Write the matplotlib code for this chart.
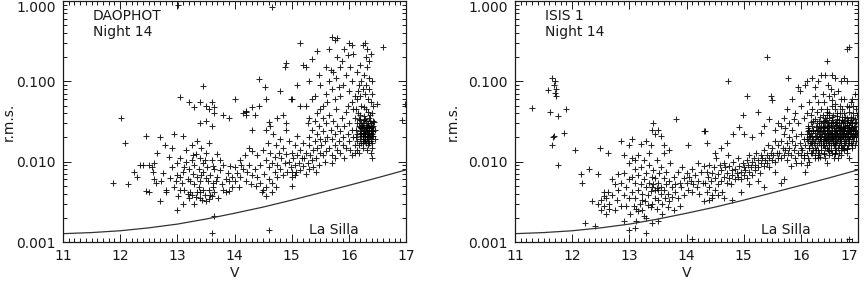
import numpy as np
import matplotlib
matplotlib.use("Agg")
import matplotlib.pyplot as plt
from matplotlib.ticker import FixedLocator, MultipleLocator, NullFormatter, LogLocator

# La Silla expected noise curve
silla_v = [11.0, 11.5, 12.0, 12.5, 13.0, 13.5, 14.0, 14.5, 15.0, 15.5, 16.0, 16.5, 17.0]
silla_rms = [0.00127, 0.00131, 0.00138, 0.00150, 0.00167, 0.00193, 0.00228,
             0.00272, 0.00332, 0.0041, 0.00507, 0.0063, 0.0079]

# DAOPHOT panel, (V, rms) pairs
dao_outliers = [(13.02, .90), (14.65, .85), (12.02, .035), (12.08, .017), (11.88, .0055),
                (13.6, .0013), (14.6, .0014), (16.93, .033), (16.98, .052), (16.6, .27),
                (13.05, .063), (15.0, .005), (12.14, .0052), (13.0, .0025), (13.65, .0021),
                (14.42, .108), (14.54, .085)]

dao_bright = [(12.25, .0075), (12.3, .0065), (12.4, .009), (12.45, .021), (12.45, .0043),
              (12.5, .0042), (12.5, .009), (12.55, .0085), (12.6, .0095), (12.6, .006),
              (12.62, .0055), (12.65, .013), (12.7, .02), (12.7, .0032), (12.75, .0073),
              (12.78, .016), (12.8, .0045), (12.8, .0042), (12.85, .0115), (12.9, .0085),
              (12.9, .015), (12.95, .022), (12.95, .0048), (13.0, .0068), (13.0, .0095),
              (13.02, .0037), (13.05, .0065), (13.05, .011), (13.08, .0055), (13.1, .0075),
              (13.1, .003), (13.1, .021), (13.12, .0045), (13.15, .0098), (13.15, .014),
              (13.18, .006), (13.2, .0035), (13.2, .0082), (13.22, .0042), (13.25, .0105),
              (13.25, .016), (13.25, .0038), (13.28, .007), (13.3, .0052), (13.3, .009),
              (13.3, .003), (13.32, .0125), (13.35, .0042), (13.35, .0065), (13.35, .018),
              (13.38, .008), (13.4, .0035), (13.4, .011), (13.4, .0058), (13.42, .015),
              (13.45, .0045), (13.45, .0075), (13.45, .0095), (13.48, .0038), (13.5, .0062),
              (13.5, .013), (13.5, .0032), (13.52, .0085), (13.55, .0045), (13.55, .017),
              (13.58, .0068), (13.6, .0037), (13.6, .0105), (13.62, .0055), (13.65, .008),
              (13.65, .0042), (13.7, .0065), (13.7, .0125), (13.72, .0035), (13.75, .0078),
              (13.78, .0052), (13.8, .0092), (13.8, .0045), (13.85, .006), (13.88, .0072),
              (13.9, .0043), (13.92, .0088), (13.95, .0048), (14.0, .0085), (14.0, .0058),
              (14.05, .0072), (14.1, .0105), (14.1, .0065), (14.15, .0082), (14.18, .012),
              (14.2, .0058), (14.22, .0075), (14.25, .0092), (14.3, .0068), (14.3, .0135),
              (13.22, .0058), (13.28, .012), (13.38, .0048), (13.42, .0068), (13.48, .0105),
              (13.53, .0058), (13.57, .0039), (13.33, .0036), (13.18, .004), (13.12, .0085),
              (13.05, .0045), (12.98, .0058), (12.88, .0062), (12.72, .0058), (12.58, .0075),
              (12.35, .0092), (13.62, .0088), (13.68, .0058), (13.75, .0105), (13.85, .0042),
              (13.95, .0065), (14.08, .0048), (14.12, .0092), (14.28, .0052), (13.9, .0058),
              (13.55, .0034), (13.4, .0042), (13.44, .0033), (13.62, .0048),
              (13.2, .055), (13.3, .048), (13.4, .055), (13.5, .05), (13.55, .045),
              (13.45, .088), (13.6, .055), (13.65, .04), (13.4, .03), (13.5, .032),
              (13.6, .028), (13.8, .038), (13.9, .035), (14.0, .06), (14.2, .042),
              (14.15, .04), (14.3, .048), (14.2, .038), (13.65, .048)]

dao_mid = [(14.35, .008), (14.4, .0065), (14.4, .012), (14.45, .0055), (14.45, .009),
           (14.5, .0045), (14.5, .014), (14.52, .007), (14.55, .0105), (14.55, .0048),
           (14.58, .017), (14.6, .0085), (14.6, .006), (14.62, .013), (14.65, .0095),
           (14.65, .0055), (14.68, .022), (14.7, .0075), (14.7, .0115), (14.72, .016),
           (14.75, .0065), (14.75, .009), (14.78, .013), (14.8, .019), (14.8, .008),
           (14.82, .011), (14.85, .0068), (14.85, .015), (14.88, .0095), (14.9, .025),
           (14.9, .0125), (14.92, .0075), (14.95, .01), (14.95, .018), (14.98, .0085),
           (15.0, .013), (15.0, .0065), (15.02, .011), (15.05, .016), (15.05, .009),
           (15.08, .0075), (15.1, .012), (15.1, .021), (15.12, .0095), (15.15, .014),
           (15.15, .0078), (15.18, .011), (15.2, .017), (15.2, .0088), (14.55, .025),
           (14.6, .031), (14.62, .028), (14.75, .035), (14.85, .038), (14.9, .03),
           (14.98, .06), (15.0, .06), (14.8, .075), (14.88, .15), (14.9, .17),
           (15.1, .09), (15.15, .05), (15.15, .3), (15.2, .16), (15.25, .15),
           (14.55, .06), (14.42, .05), (14.35, .038), (14.3, .025), (14.2, .043),
           (14.25, .015), (14.38, .005), (14.48, .0042), (14.55, .0037), (14.65, .0042),
           (14.72, .0048), (15.0, .0075), (15.05, .0068), (15.25, .007), (15.3, .008)]

dao_faint = [(15.22, .011), (15.25, .013), (15.28, .0095), (15.3, .016), (15.3, .02),
             (15.32, .012), (15.35, .0105), (15.35, .025), (15.38, .014), (15.4, .018),
             (15.4, .032), (15.42, .011), (15.45, .015), (15.45, .022), (15.48, .028),
             (15.5, .013), (15.5, .019), (15.5, .045), (15.3, .035), (15.35, .06),
             (15.4, .065), (15.45, .04), (15.25, .05), (15.28, .03), (15.48, .009),
             (15.42, .0075), (15.38, .0085), (15.45, .24), (15.35, .19), (15.3, .1),
             (15.5, .09), (15.48, .12),
             (15.52, .016), (15.55, .012), (15.55, .024), (15.58, .018), (15.6, .03),
             (15.6, .0135), (15.62, .02), (15.65, .015), (15.65, .038), (15.68, .025),
             (15.7, .012), (15.7, .019), (15.72, .032), (15.75, .016), (15.75, .022),
             (15.78, .045), (15.8, .014), (15.8, .028), (15.55, .05), (15.6, .07),
             (15.65, .1), (15.7, .08), (15.72, .13), (15.75, .06), (15.78, .11),
             (15.8, .2), (15.7, .36), (15.75, .33), (15.8, .35), (15.6, .15),
             (15.65, .25), (15.68, .14), (15.58, .01), (15.7, .0095), (15.75, .011),
             (15.62, .055), (15.55, .035),
             (15.82, .018), (15.85, .024), (15.85, .013), (15.88, .035), (15.9, .02),
             (15.9, .016), (15.92, .028), (15.95, .015), (15.95, .042), (15.98, .022),
             (16.0, .018), (16.0, .03), (16.02, .014), (16.05, .025), (16.05, .055),
             (16.08, .02), (16.1, .016), (16.1, .035), (15.85, .065), (15.9, .09),
             (15.95, .12), (16.0, .075), (16.02, .15), (16.05, .1), (16.08, .22),
             (16.1, .065), (15.88, .18), (15.92, .25), (16.0, .3), (16.05, .28),
             (15.98, .21), (15.85, .15), (15.82, .085), (16.1, .013), (15.92, .011),
             (16.05, .012), (15.98, .05), (16.08, .045),
             (16.12, .02), (16.12, .025), (16.14, .03), (16.15, .018), (16.15, .022),
             (16.16, .04), (16.18, .016), (16.18, .028), (16.2, .019), (16.2, .024),
             (16.2, .033), (16.22, .021), (16.22, .017), (16.22, .05), (16.24, .026),
             (16.24, .019), (16.25, .023), (16.25, .03), (16.26, .018), (16.26, .037),
             (16.28, .02), (16.28, .025), (16.28, .022), (16.3, .017), (16.3, .027),
             (16.3, .032), (16.3, .045), (16.32, .021), (16.32, .019), (16.32, .024),
             (16.34, .028), (16.34, .016), (16.35, .022), (16.35, .035), (16.36, .02),
             (16.36, .026), (16.38, .018), (16.38, .03), (16.38, .023), (16.4, .021),
             (16.4, .027), (16.4, .04), (16.4, .017), (16.42, .024), (16.42, .032),
             (16.14, .06), (16.16, .075), (16.18, .09), (16.2, .065), (16.22, .1),
             (16.24, .08), (16.26, .12), (16.28, .07), (16.3, .09), (16.32, .15),
             (16.34, .06), (16.35, .11), (16.36, .08), (16.38, .055), (16.4, .07),
             (16.4, .1), (16.3, .2), (16.32, .25), (16.35, .18), (16.38, .22),
             (16.25, .28), (16.28, .3), (16.2, .16), (16.15, .13), (16.12, .045),
             (16.14, .014), (16.18, .013), (16.25, .015), (16.32, .014), (16.38, .013),
             (16.4, .015), (16.45, .025), (16.45, .019), (16.44, .031), (16.4, .011),
             (16.2, .038), (16.26, .048), (16.34, .042), (16.42, .05), (16.17, .034),
             (16.23, .029), (16.29, .034), (16.33, .03), (16.37, .038), (16.43, .021),
             (16.21, .026), (16.27, .027), (16.31, .023), (16.39, .025), (16.19, .022),
             (16.24, .021), (16.36, .017), (16.5, .052)]

dao_core = [(16.21, .023), (16.23, .026), (16.25, .021), (16.27, .024), (16.29, .019),
            (16.31, .026), (16.33, .022), (16.35, .025), (16.37, .021), (16.39, .028),
            (16.41, .022), (16.22, .03), (16.26, .022), (16.3, .024), (16.34, .02),
            (16.38, .026), (16.42, .028), (16.19, .027), (16.27, .033), (16.31, .029),
            (16.35, .027), (16.39, .019), (16.24, .017), (16.28, .018), (16.32, .026),
            (16.36, .023), (16.4, .024), (16.29, .021), (16.33, .018), (16.37, .032)]

# ISIS panel, (V, rms) pairs
isis_outliers = [(11.3, .046), (11.58, .078), (11.62, .042), (11.65, .11), (11.7, .10),
                 (11.68, .09), (11.72, .08), (11.7, .072), (11.71, .065), (11.75, .037),
                 (11.68, .021), (11.66, .02), (11.65, .016), (11.75, .009), (11.85, .023),
                 (11.9, .045), (12.05, .014), (12.15, .007), (12.18, .0055), (12.3, .008),
                 (12.22, .0017), (12.4, .0016), (12.45, .007), (12.48, .015), (12.62, .013),
                 (14.1, .0011), (12.35, .0032), (14.32, .024)]

isis_bright = [(12.45, .003), (12.5, .0033), (12.5, .0025), (12.55, .0037), (12.55, .0028),
               (12.6, .0035), (12.6, .0022), (12.62, .0042), (12.65, .003), (12.7, .006),
               (12.7, .0038), (12.75, .0052), (12.78, .0033), (12.8, .0045), (12.8, .007),
               (12.85, .0028), (12.85, .0055), (12.9, .0072), (12.9, .0038), (12.95, .0048),
               (12.95, .0028), (13.0, .006), (13.0, .0035), (13.0, .0095), (13.02, .0022),
               (13.05, .0065), (13.05, .0042), (13.05, .011), (13.08, .0028), (13.1, .0055),
               (13.1, .008), (13.1, .0035), (13.12, .0018), (13.15, .0045), (13.15, .0068),
               (13.15, .012), (13.18, .003), (13.2, .0052), (13.2, .0085), (13.22, .0025),
               (13.22, .004), (13.25, .006), (13.25, .0105), (13.28, .0032), (13.3, .0048),
               (13.3, .0072), (13.3, .002), (13.32, .0038), (13.35, .0055), (13.35, .0092),
               (13.35, .013), (13.38, .0043), (13.4, .0065), (13.4, .003), (13.4, .0048),
               (13.42, .0078), (13.42, .0052), (13.45, .0035), (13.45, .0045), (13.45, .0062),
               (13.48, .0047), (13.48, .0105), (13.5, .0055), (13.5, .0033), (13.5, .0045),
               (13.52, .0072), (13.55, .004), (13.55, .0048), (13.55, .0085), (13.58, .003),
               (13.6, .0062), (13.6, .0045), (13.6, .013), (13.62, .0035), (13.65, .0052),
               (13.65, .0075), (13.68, .004), (13.7, .0058), (13.7, .0032), (13.72, .0095),
               (13.75, .0048), (13.75, .0036), (13.78, .0065), (13.8, .0052), (13.8, .0042),
               (13.85, .0075), (13.85, .0035), (13.88, .0055), (13.9, .0048), (13.92, .0085),
               (13.95, .0062), (13.95, .0039), (14.0, .0055), (14.0, .0072), (14.02, .0045),
               (14.05, .0065), (14.08, .0058), (14.1, .0082), (14.1, .0042), (14.12, .0052),
               (14.15, .0068), (14.18, .0048), (14.2, .0095), (14.2, .0058), (14.22, .004),
               (14.25, .0075), (14.28, .0055), (14.3, .0088), (13.05, .019), (13.1, .0105),
               (13.4, .025), (13.42, .03), (13.45, .022), (13.5, .025), (13.55, .021),
               (13.38, .016), (13.6, .016), (13.3, .018), (12.85, .018), (12.9, .012),
               (13.0, .016), (13.2, .0165), (13.7, .014), (13.82, .034), (14.02, .016),
               (14.3, .024), (13.1, .0015), (13.3, .0013), (13.4, .0017), (13.5, .0018),
               (13.25, .0021), (13.15, .0024), (13.0, .0014), (12.9, .0018), (12.75, .0025),
               (12.65, .0026), (12.55, .0042), (13.38, .0027), (13.48, .0026), (13.58, .0022),
               (13.68, .0027), (13.78, .0025), (13.88, .0028), (13.12, .0026), (13.22, .0033),
               (13.32, .0029)]

isis_mid = [(14.32, .0055), (14.35, .0042), (14.35, .0075), (14.38, .0065), (14.4, .0048),
            (14.4, .009), (14.42, .0058), (14.45, .0072), (14.45, .0038), (14.48, .0085),
            (14.5, .0062), (14.5, .0045), (14.52, .011), (14.55, .007), (14.55, .0052),
            (14.58, .009), (14.6, .0058), (14.6, .0078), (14.62, .0042), (14.65, .0095),
            (14.65, .0065), (14.68, .0085), (14.7, .0055), (14.7, .0072), (14.72, .012),
            (14.75, .0062), (14.75, .0088), (14.78, .0052), (14.8, .0078), (14.8, .0068),
            (14.82, .0098), (14.85, .006), (14.85, .0082), (14.88, .0072), (14.9, .0065),
            (14.9, .011), (14.92, .0088), (14.95, .0075), (14.95, .006), (14.98, .0095),
            (15.0, .0068), (15.0, .0085), (15.02, .0078), (15.05, .0105), (15.05, .0062),
            (15.08, .009), (15.1, .0075), (15.1, .012), (15.12, .0085), (15.15, .0068),
            (15.15, .0098), (15.18, .011), (15.2, .0078), (15.2, .009), (15.22, .013),
            (15.25, .0085), (15.25, .0105), (15.28, .0072), (15.3, .0095), (15.3, .012),
            (15.32, .011), (15.35, .0088), (15.35, .014), (15.38, .0105), (15.4, .0095),
            (15.4, .012), (15.42, .016), (15.45, .011), (15.45, .0085), (15.48, .013),
            (15.5, .0105), (15.5, .015), (15.52, .012), (15.55, .0098), (15.55, .018),
            (15.58, .013), (15.6, .011), (15.6, .016), (14.35, .017), (14.5, .013),
            (14.6, .015), (14.7, .017), (14.82, .022), (14.92, .027), (14.98, .038),
            (15.0, .022), (15.05, .065), (15.15, .02), (15.25, .042), (15.3, .023),
            (15.35, .028), (15.45, .034), (15.48, .065), (15.5, .058), (15.55, .025),
            (15.6, .03), (15.4, .2), (14.72, .1), (14.45, .0035), (14.55, .0038),
            (14.65, .0035), (14.8, .0033), (14.95, .0042), (15.1, .0052), (15.25, .0058),
            (15.35, .0048), (15.55, .0075), (15.65, .0055), (14.3, .0032), (14.4, .0033),
            (15.7, .006)]

isis_faint = [(15.62, .013), (15.65, .011), (15.65, .018), (15.68, .015), (15.7, .012),
              (15.7, .022), (15.72, .014), (15.75, .017), (15.75, .0105), (15.78, .013),
              (15.8, .02), (15.8, .015), (15.82, .012), (15.85, .018), (15.85, .025),
              (15.88, .014), (15.9, .016), (15.9, .011), (15.92, .021), (15.95, .013),
              (15.95, .03), (15.98, .017), (16.0, .015), (16.0, .012), (16.0, .022),
              (15.7, .035), (15.75, .045), (15.8, .03), (15.85, .06), (15.9, .04),
              (15.95, .085), (15.78, .11), (15.98, .075), (16.0, .05), (15.65, .028),
              (15.72, .026), (15.88, .034), (15.92, .0095), (16.0, .0095), (15.82, .0088),
              (16.02, .014), (16.05, .019), (16.05, .012), (16.08, .016), (16.1, .022),
              (16.1, .013), (16.12, .018), (16.12, .011), (16.15, .015), (16.15, .025),
              (16.15, .02), (16.18, .013), (16.18, .017), (16.2, .021), (16.2, .016),
              (16.2, .028), (16.22, .014), (16.22, .019), (16.25, .018), (16.25, .023),
              (16.25, .012), (16.28, .016), (16.28, .021), (16.28, .03), (16.3, .014),
              (16.3, .019), (16.3, .025), (16.05, .035), (16.1, .04), (16.12, .028),
              (16.15, .055), (16.18, .038), (16.2, .045), (16.22, .032), (16.25, .065),
              (16.28, .042), (16.3, .055), (16.08, .09), (16.1, .1), (16.2, .11),
              (16.25, .085), (16.3, .1), (16.05, .011), (16.15, .01), (16.25, .011),
              (16.1, .009), (16.08, .0075), (16.3, .011), (16.22, .024), (16.18, .023),
              (16.12, .024), (16.26, .027), (16.24, .015), (16.16, .017),
              (16.32, .017), (16.32, .022), (16.32, .013), (16.34, .019), (16.34, .026),
              (16.35, .016), (16.35, .021), (16.36, .03), (16.36, .014), (16.38, .018),
              (16.38, .024), (16.4, .016), (16.4, .02), (16.4, .027), (16.4, .013),
              (16.42, .019), (16.42, .023), (16.42, .035), (16.44, .017), (16.44, .021),
              (16.45, .015), (16.45, .026), (16.46, .019), (16.46, .031), (16.48, .018),
              (16.48, .023), (16.48, .014), (16.5, .02), (16.5, .025), (16.5, .017),
              (16.5, .04), (16.52, .016), (16.52, .022), (16.52, .028), (16.54, .019),
              (16.54, .024), (16.55, .013), (16.55, .033), (16.56, .018), (16.56, .021),
              (16.58, .026), (16.58, .016), (16.58, .02), (16.6, .023), (16.6, .018),
              (16.6, .03), (16.6, .015), (16.35, .045), (16.4, .055), (16.45, .045),
              (16.5, .065), (16.55, .05), (16.6, .045), (16.38, .07), (16.48, .09),
              (16.52, .08), (16.58, .07), (16.35, .12), (16.42, .12), (16.45, .18),
              (16.55, .12), (16.6, .11), (16.38, .038), (16.46, .038), (16.54, .036),
              (16.32, .032), (16.42, .011), (16.5, .012), (16.58, .011), (16.45, .0095),
              (16.6, .0125), (16.34, .0115),
              (16.62, .02), (16.62, .025), (16.62, .017), (16.64, .022), (16.64, .028),
              (16.65, .019), (16.65, .015), (16.66, .024), (16.66, .033), (16.68, .021),
              (16.68, .018), (16.68, .027), (16.7, .023), (16.7, .019), (16.7, .03),
              (16.7, .016), (16.72, .025), (16.72, .021), (16.72, .036), (16.74, .02),
              (16.74, .027), (16.75, .018), (16.75, .023), (16.76, .032), (16.76, .025),
              (16.78, .021), (16.78, .028), (16.78, .017), (16.8, .024), (16.8, .02),
              (16.8, .035), (16.82, .026), (16.82, .022), (16.84, .029), (16.84, .019),
              (16.85, .024), (16.86, .031), (16.86, .021), (16.88, .027), (16.88, .023),
              (16.9, .02), (16.9, .03), (16.92, .025), (16.94, .022), (16.95, .028),
              (16.64, .04), (16.68, .05), (16.72, .045), (16.76, .06), (16.8, .05),
              (16.84, .042), (16.88, .055), (16.92, .04), (16.95, .07), (16.65, .075),
              (16.7, .1), (16.75, .11), (16.8, .1), (16.9, .06), (16.85, .27),
              (16.8, .25), (16.7, .012), (16.75, .014), (16.8, .013), (16.9, .015),
              (16.95, .016), (16.65, .011), (16.85, .011), (16.85, .0011), (16.72, .015),
              (16.82, .016), (16.92, .018), (16.96, .02), (16.66, .013), (16.94, .034),
              (16.88, .036)]

isis_core = [(16.11, .019), (16.13, .026), (16.14, .015), (16.16, .021), (16.17, .031),
             (16.19, .018), (16.21, .025), (16.23, .017), (16.24, .034), (16.26, .02),
             (16.27, .014), (16.29, .024), (16.31, .028), (16.33, .02), (16.33, .036),
             (16.35, .025), (16.36, .018), (16.37, .022), (16.39, .031), (16.39, .016),
             (16.41, .024), (16.41, .019), (16.43, .028), (16.43, .015), (16.44, .033),
             (16.45, .022), (16.47, .02), (16.47, .027), (16.49, .016), (16.49, .035),
             (16.51, .023), (16.51, .019), (16.53, .03), (16.53, .014), (16.55, .021),
             (16.55, .027), (16.57, .017), (16.57, .038), (16.59, .024), (16.59, .02),
             (16.61, .029), (16.61, .014), (16.63, .023), (16.63, .018), (16.63, .034),
             (16.65, .026), (16.65, .021), (16.67, .016), (16.67, .03), (16.69, .024),
             (16.69, .02), (16.69, .04), (16.71, .027), (16.71, .017), (16.73, .022),
             (16.73, .031), (16.74, .015), (16.75, .026), (16.77, .02), (16.77, .036),
             (16.79, .023), (16.79, .018), (16.81, .029), (16.81, .015), (16.83, .022),
             (16.83, .033), (16.85, .019), (16.85, .027), (16.87, .025), (16.87, .017),
             (16.89, .03), (16.89, .021), (16.91, .024), (16.91, .035), (16.93, .02),
             (16.93, .027), (16.95, .023), (16.96, .031), (16.97, .025), (16.97, .018),
             (16.2, .013), (16.3, .012), (16.4, .0125), (16.5, .0135), (16.6, .013),
             (16.7, .014), (16.8, .0145), (16.9, .016), (16.98, .022), (16.98, .038),
             (16.34, .024), (16.38, .027), (16.42, .02), (16.46, .025), (16.5, .029),
             (16.54, .022), (16.58, .025), (16.62, .031), (16.66, .02), (16.7, .026),
             (16.74, .024), (16.78, .026), (16.82, .019), (16.86, .025), (16.9, .026),
             (16.94, .024), (16.36, .016), (16.44, .018), (16.52, .019), (16.6, .017),
             (16.68, .019), (16.76, .016), (16.84, .017), (16.92, .021), (16.4, .032),
             (16.48, .03), (16.56, .031), (16.64, .037), (16.72, .033), (16.8, .03),
             (16.88, .033), (16.96, .045), (16.45, .042), (16.6, .052), (16.75, .04),
             (16.85, .048), (16.92, .05), (16.7, .06), (16.55, .058)]

panels = [
    ("DAOPHOT\nNight 14", dao_outliers + dao_bright + dao_mid + dao_faint + dao_core, 63, -0.138),
    ("ISIS 1\nNight 14", isis_outliers + isis_bright + isis_mid + isis_faint + isis_core, 515, -0.16),
]

W, H = 865, 281
ink = "#1a1a1a"
fig = plt.figure(figsize=(W / 100, H / 100), dpi=100)

for label, pts, left, ylab_x in panels:
    ax = fig.add_axes([left / W, (H - 242) / H, 343 / W, 241 / H])
    v, rms = np.array(pts).T
    ax.plot(v, rms, ls="none", marker="+", ms=3.8, mew=0.75, color="k", alpha=0.85)
    ax.plot(silla_v, silla_rms, color="#333333", lw=0.9)

    ax.set_yscale("log")
    ax.set_xlim(11, 17)
    ax.set_ylim(0.001, 1.0)
    ax.set_xticks([11, 12, 13, 14, 15, 16, 17])
    ax.xaxis.set_minor_locator(MultipleLocator(0.1))
    ax.yaxis.set_major_locator(FixedLocator([0.001, 0.01, 0.1, 1.0]))
    ax.yaxis.set_minor_locator(LogLocator(base=10, subs=np.arange(2, 10)))
    ax.yaxis.set_minor_formatter(NullFormatter())
    ax.set_yticklabels(["0.001", "0.010", "0.100", "1.000"])
    ax.tick_params(which="both", direction="in", top=True, right=True,
                   width=0.7, color=ink, labelcolor=ink, labelsize=10)
    ax.tick_params(which="major", length=6, pad=5)
    ax.tick_params(which="minor", length=3)
    for s in ax.spines.values():
        s.set_linewidth(0.9)
        s.set_color(ink)
    ax.yaxis.get_major_ticks()[-1].label1.set_va("top")
    if left > W / 2:
        # keep the last x label inside the figure edge
        ax.xaxis.get_major_ticks()[-1].label1.set_ha("right")

    ax.set_xlabel("V", fontsize=10, color=ink, labelpad=2)
    ax.set_ylabel("r.m.s.", fontsize=10, color=ink)
    ax.yaxis.set_label_coords(ylab_x, 0.5)
    ax.text(0.087, 0.965, label, transform=ax.transAxes, ha="left", va="top",
            fontsize=10, color=ink, linespacing=1.15)
    ax.text(0.717, 0.033, "La Silla", transform=ax.transAxes, ha="left",
            va="baseline", fontsize=10, color=ink)

fig.savefig("out.png", dpi=100)
